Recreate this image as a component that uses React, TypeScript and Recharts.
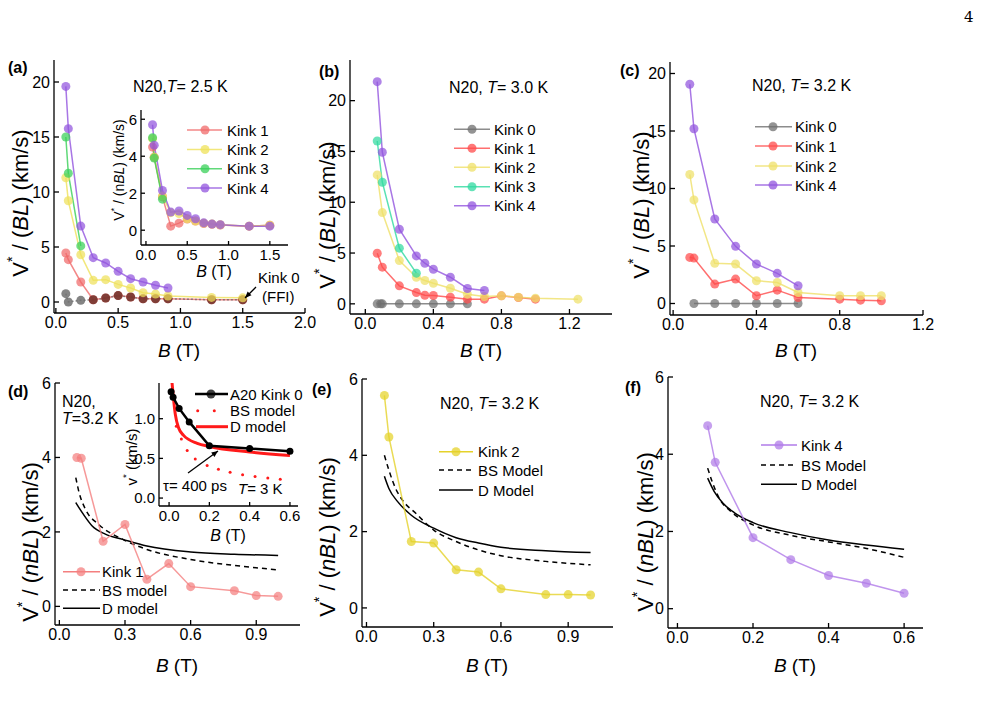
import React from "react";
import { LineChart, Line, XAxis, YAxis } from "recharts";

const FONT = "'Liberation Sans', Arial, Helvetica, sans-serif";

const GREY = "#6f6f6f";
const BROWN = "#6b2f27";
const RED_A = "#f06a6a";
const YEL_A = "#efe15a";
const GRN_A = "#38d058";
const PUR = "#9254de";
const RED = "#ff4b4b";
const YEL = "#efe068";
const TEAL = "#30d9a0";
const RED_D = "#f47f7f";
const YEL_E = "#e5d22a";
const PUR_F = "#b07be8";
const MODEL_RED = "#ff1a1a";

// ---- (a) T = 2.5 K, V*/(BL)
const bA = [0.08, 0.1, 0.2, 0.3, 0.4, 0.5, 0.6, 0.7, 0.8, 0.9, 1.25, 1.5];
const aK0 = [0.76, 0.0, 0.15, 0.2, 0.36, 0.58, 0.45, 0.3, 0.3, 0.3, 0.2, 0.2];
const aK1 = [4.45, 3.85, 1.82, 0.2, 0.36, 0.58, 0.45, 0.3, 0.3, 0.3, 0.2, 0.2];
const aK2 = [11.3, 9.2, 4.3, 1.97, 2.03, 1.6, 1.27, 0.85, 0.72, 0.55, 0.42, 0.38];
const bA3 = [0.08, 0.1, 0.2];
const aK3 = [15.0, 11.7, 5.1];
const bA4 = [0.08, 0.1, 0.2, 0.3, 0.4, 0.5, 0.6, 0.7, 0.8, 0.9];
const aK4 = [19.6, 15.76, 6.9, 4.03, 3.55, 2.79, 2.12, 1.82, 1.52, 1.27];

// ---- (a) inset, V*/(nBL)
const bIn = [0.08, 0.1, 0.2, 0.3, 0.4, 0.5, 0.6, 0.7, 0.8, 0.9, 1.25, 1.5];
const inK1 = [4.5, 3.95, 1.8, 0.22, 0.38, 0.6, 0.5, 0.36, 0.32, 0.28, 0.22, 0.27];
const inK2 = [4.95, 3.95, 1.85, 0.95, 0.9, 0.62, 0.5, 0.38, 0.33, 0.29, 0.22, 0.27];
const bIn3 = [0.08, 0.1, 0.2];
const inK3 = [5.0, 3.9, 1.68];
const inK4 = [5.7, 4.6, 2.15, 0.98, 1.04, 0.8, 0.62, 0.4, 0.33, 0.3, 0.22, 0.22];

// ---- (b) T = 3.0 K
const bB0 = [0.07, 0.09, 0.1, 0.2, 0.3, 0.4, 0.5, 0.6];
const bK0 = [0, 0, 0, 0, 0, 0, 0, 0];
const bB1 = [0.07, 0.1, 0.2, 0.3, 0.35, 0.4, 0.5, 0.6, 0.7, 0.8, 0.9, 1.0];
const bK1 = [4.98, 3.61, 1.77, 1.11, 0.85, 0.82, 0.66, 0.46, 0.46, 0.79, 0.62, 0.46];
const bB2 = [0.07, 0.1, 0.2, 0.3, 0.35, 0.4, 0.5, 0.6, 0.7, 0.8, 0.9, 1.0, 1.25];
const bK2 = [12.69, 8.98, 4.26, 2.62, 2.3, 2.03, 1.54, 0.95, 0.72, 0.79, 0.65, 0.56, 0.46];
const bB3 = [0.07, 0.1, 0.2, 0.3];
const bK3 = [16.03, 11.97, 5.48, 3.02];
const bB4 = [0.07, 0.1, 0.2, 0.3, 0.35, 0.4, 0.5, 0.6, 0.7];
const bK4 = [21.87, 14.92, 7.34, 4.72, 4.0, 3.41, 2.62, 1.51, 1.31];

// ---- (c) T = 3.2 K
const cB0 = [0.1, 0.2, 0.3, 0.4, 0.5, 0.6];
const cK0 = [0, 0, 0, 0, 0, 0];
const cB = [0.08, 0.1, 0.2, 0.3, 0.4, 0.5, 0.6, 0.8, 0.9, 1.0];
const cK1 = [4.01, 3.95, 1.69, 2.12, 0.67, 1.16, 0.52, 0.38, 0.29, 0.23];
const cK2 = [11.22, 9.01, 3.49, 3.43, 1.98, 1.83, 0.96, 0.67, 0.67, 0.67];
const cB4 = [0.08, 0.1, 0.2, 0.3, 0.4, 0.5, 0.6];
const cK4 = [19.07, 15.2, 7.35, 4.97, 3.43, 2.62, 1.54];

// ---- (d) kink 1 with models
const dB = [0.08, 0.1, 0.2, 0.3, 0.4, 0.5, 0.6, 0.8, 0.9, 1.0];
const dK1 = [4.0, 3.98, 1.75, 2.2, 0.73, 1.15, 0.53, 0.42, 0.29, 0.27];
const dBsX = [0.075, 0.09, 0.12, 0.18, 0.29, 0.4, 0.6, 0.8, 1.0];
const dBsY = [3.46, 3.06, 2.6, 2.2, 1.8, 1.53, 1.26, 1.1, 0.98];
const dDX = [0.075, 0.11, 0.15, 0.21, 0.29, 0.4, 0.6, 0.8, 1.0];
const dDY = [2.79, 2.47, 2.16, 1.94, 1.8, 1.62, 1.46, 1.4, 1.37];

// ---- (d) inset, A20 kink 0
const diX = [0.01, 0.02, 0.05, 0.1, 0.2, 0.4, 0.6];
const diY = [1.34, 1.27, 1.13, 0.96, 0.66, 0.625, 0.59];
const diBsX = [0.036, 0.061, 0.09, 0.13, 0.189, 0.245, 0.303, 0.365, 0.427, 0.49, 0.552];
const diBsY = [0.906, 0.745, 0.598, 0.492, 0.41, 0.362, 0.324, 0.294, 0.272, 0.253, 0.238];
const diDX = [0.013, 0.031, 0.047, 0.072, 0.14, 0.2, 0.4, 0.6];
const diDY = [1.5, 1.055, 0.885, 0.79, 0.69, 0.65, 0.58, 0.535];

// ---- (e) kink 2 with models
const eB = [0.08, 0.1, 0.2, 0.3, 0.4, 0.5, 0.6, 0.8, 0.9, 1.0];
const eK2 = [5.57, 4.48, 1.74, 1.7, 1.0, 0.94, 0.5, 0.35, 0.35, 0.34];
const eBsX = [0.08, 0.1, 0.13, 0.16, 0.22, 0.3, 0.4, 0.5, 0.6, 0.8, 1.0];
const eBsY = [4.0, 3.61, 3.13, 2.83, 2.48, 2.04, 1.74, 1.52, 1.37, 1.22, 1.13];
const eDX = [0.08, 0.1, 0.14, 0.2, 0.3, 0.4, 0.5, 0.6, 0.8, 1.0];
const eDY = [3.45, 3.13, 2.78, 2.43, 2.09, 1.84, 1.7, 1.59, 1.5, 1.45];

// ---- (f) kink 4 with models
const fB = [0.08, 0.1, 0.2, 0.3, 0.4, 0.5, 0.6];
const fK4 = [4.74, 3.79, 1.84, 1.27, 0.86, 0.66, 0.4];
const fBsX = [0.08, 0.093, 0.11, 0.14, 0.2, 0.3, 0.4, 0.5, 0.6];
const fBsY = [3.64, 3.26, 2.87, 2.53, 2.17, 1.9, 1.73, 1.56, 1.33];
const fDX = [0.08, 0.097, 0.12, 0.15, 0.2, 0.3, 0.4, 0.5, 0.6];
const fDY = [3.38, 3.04, 2.74, 2.49, 2.23, 1.97, 1.78, 1.65, 1.54];

const zip = (xs: number[], ys: number[]) => xs.map((x, i) => ({ x, y: ys[i] }));
const f1 = (v: number) => v.toFixed(1);
const f0 = (v: number) => String(v);

function kink(id: string, xs: number[], ys: number[], color: string, dotProp?: any, dash?: string) {
  return (
    <Line
      key={id}
      xAxisId="b"
      yAxisId="l"
      data={zip(xs, ys)}
      dataKey="y"
      type="linear"
      stroke={color}
      strokeWidth={1.5}
      strokeOpacity={0.8}
      strokeDasharray={dash}
      dot={dotProp || { r: 4.5, fill: color, fillOpacity: 0.72, stroke: "none" }}
      activeDot={false}
      isAnimationActive={false}
    />
  );
}

function model(id: string, xs: number[], ys: number[], color: string, width: number, dash?: string) {
  return (
    <Line
      key={id}
      xAxisId="b"
      yAxisId="l"
      data={zip(xs, ys)}
      dataKey="y"
      type="monotone"
      stroke={color}
      strokeWidth={width}
      strokeDasharray={dash}
      dot={false}
      activeDot={false}
      isAnimationActive={false}
    />
  );
}

function Panel({
  l, t, r, b, xDomain, yDomain, xTicks, yTicks,
  xFmt = f1, yFmt = f0, fontSize = 16, tick = 5, children,
}: {
  l: number; t: number; r: number; b: number;
  xDomain: [number, number]; yDomain: [number, number];
  xTicks: number[]; yTicks: number[];
  xFmt?: (v: number) => string; yFmt?: (v: number) => string;
  fontSize?: number; tick?: number; children: React.ReactNode;
}) {
  const yW = 40;
  const xH = 30;
  const padT = 12;
  const padR = 16;
  const axis = { stroke: "#000", strokeWidth: 1.3 };
  const tickStyle = { fill: "#000", fontSize, fontFamily: FONT };
  const blank = () => "";
  return (
    <div style={{ position: "absolute", left: l - yW, top: t - padT }}>
      <LineChart
        width={r - l + yW + padR}
        height={b - t + padT + xH}
        margin={{ top: padT, right: padR, bottom: 0, left: 0 }}
      >
        <XAxis xAxisId="b" type="number" dataKey="x" domain={xDomain} ticks={xTicks} allowDataOverflow
          interval={0} height={xH} axisLine={axis} tickLine={axis} tickSize={-tick} tickMargin={tick + 4}
          tick={tickStyle} tickFormatter={xFmt} />
        <XAxis xAxisId="t" orientation="top" type="number" dataKey="x" domain={xDomain} ticks={xTicks}
          allowDataOverflow interval={0} height={0} axisLine={axis} tickLine={axis} tickSize={-tick}
          tickFormatter={blank} />
        <YAxis yAxisId="l" type="number" domain={yDomain} ticks={yTicks} allowDataOverflow interval={0}
          width={yW} axisLine={axis} tickLine={axis} tickSize={-tick} tickMargin={tick + 4}
          tick={tickStyle} tickFormatter={yFmt} />
        <YAxis yAxisId="r" orientation="right" type="number" domain={yDomain} ticks={yTicks}
          allowDataOverflow interval={0} width={0} axisLine={axis} tickLine={axis} tickSize={-tick}
          tickFormatter={blank} />
        {children}
      </LineChart>
    </div>
  );
}

// kink 0 in (a): dots that sit on kink 1 look dark brown
const kink0Dot = (p: any) => (
  <circle
    key={`k0-${p.index}`}
    cx={p.cx}
    cy={p.cy}
    r={4.5}
    fill={aK0[p.index] === aK1[p.index] ? BROWN : GREY}
    fillOpacity={0.85}
  />
);

function Row({ x1, x2, dx, tx, y, color, label, dash, dot = true, w = 1.5, fs = 15, op = 0.8 }: any) {
  return (
    <g>
      <line x1={x1} x2={x2} y1={y} y2={y} stroke={color} strokeWidth={w} strokeDasharray={dash} strokeOpacity={op} />
      {dot && <circle cx={dx} cy={y} r={4.5} fill={color} fillOpacity={0.75} />}
      <text x={tx} y={y + 5.5} fontSize={fs}>{label}</text>
    </g>
  );
}

function YTitle({ cx, cy, fs = 22, n = false, nItalic = true, small = false }: any) {
  return (
    <text x={cx} y={cy} transform={`rotate(-90 ${cx} ${cy})`} textAnchor="middle" dominantBaseline="central" fontSize={fs}>
      {small ? "v" : "V"}
      <tspan dy={-fs * 0.38} fontSize={fs * 0.65}>*</tspan>
      {small ? (
        <tspan dy={fs * 0.38}> (km/s)</tspan>
      ) : (
        <>
          <tspan dy={fs * 0.38}> / (</tspan>
          {n && <tspan fontStyle={nItalic ? "italic" : "normal"}>n</tspan>}
          <tspan fontStyle="italic">BL</tspan>
          <tspan>) (km/s)</tspan>
        </>
      )}
    </text>
  );
}

function XTitle({ cx, y, fs = 19 }: any) {
  return (
    <text x={cx} y={y} textAnchor="middle" fontSize={fs}>
      <tspan fontStyle="italic">B</tspan> (T)
    </text>
  );
}

function Cond({ x, y, t, comma = ", " }: any) {
  return (
    <text x={x} y={y} fontSize={16}>
      N20{comma}<tspan fontStyle="italic">T</tspan>= {t} K
    </text>
  );
}

function Arrow({ x1, y1, x2, y2 }: any) {
  const a = Math.atan2(y2 - y1, x2 - x1);
  const L = 7;
  const p1 = [x2 - L * Math.cos(a - 0.4), y2 - L * Math.sin(a - 0.4)];
  const p2 = [x2 - L * Math.cos(a + 0.4), y2 - L * Math.sin(a + 0.4)];
  return (
    <g>
      <line x1={x1} y1={y1} x2={x2} y2={y2} stroke="#000" strokeWidth={1.3} />
      <polygon points={`${x2},${y2} ${p1[0]},${p1[1]} ${p2[0]},${p2[1]}`} fill="#000" />
    </g>
  );
}

export default function App() {
  return (
    <div style={{ position: "absolute", left: 0, top: 0, width: 982, height: 711, background: "#fff", fontFamily: FONT }}>
      {/* (a) */}
      <Panel l={54} r={305} t={60} b={313} xDomain={[-0.015, 2.0]} yDomain={[-1, 22]}
        xTicks={[0, 0.5, 1, 1.5, 2]} yTicks={[0, 5, 10, 15, 20]}>
        {kink("a1", bA, aK1, RED_A)}
        {kink("a0", bA, aK0, GREY, kink0Dot, "2 2")}
        {kink("a2", bA, aK2, YEL_A)}
        {kink("a3", bA3, aK3, GRN_A)}
        {kink("a4", bA4, aK4, PUR)}
      </Panel>
      <Panel l={141} r={288} t={110} b={245} xDomain={[-0.06, 1.72]} yDomain={[-0.8, 6.5]}
        xTicks={[0, 0.5, 1, 1.5]} yTicks={[0, 2, 4, 6]} fontSize={15} tick={4}>
        {kink("i1", bIn, inK1, RED_A)}
        {kink("i2", bIn, inK2, YEL_A)}
        {kink("i3", bIn3, inK3, GRN_A)}
        {kink("i4", bIn, inK4, PUR)}
      </Panel>

      {/* (b) */}
      <Panel l={350} r={612} t={60} b={314} xDomain={[-0.09, 1.45]} yDomain={[-1, 24]}
        xTicks={[0, 0.4, 0.8, 1.2]} yTicks={[0, 5, 10, 15, 20]}>
        {kink("b0", bB0, bK0, GREY)}
        {kink("b1", bB1, bK1, RED)}
        {kink("b2", bB2, bK2, YEL)}
        {kink("b3", bB3, bK3, TEAL)}
        {kink("b4", bB4, bK4, PUR)}
      </Panel>

      {/* (c) */}
      <Panel l={670} r={923} t={62} b={315} xDomain={[-0.015, 1.2]} yDomain={[-1, 21]}
        xTicks={[0, 0.4, 0.8, 1.2]} yTicks={[0, 5, 10, 15, 20]}>
        {kink("c0", cB0, cK0, GREY)}
        {kink("c1", cB, cK1, RED)}
        {kink("c2", cB, cK2, YEL)}
        {kink("c4", cB4, cK4, PUR)}
      </Panel>

      {/* (d) */}
      <Panel l={55} r={300} t={383} b={625} xDomain={[-0.02, 1.1]} yDomain={[-0.5, 6]}
        xTicks={[0, 0.3, 0.6, 0.9]} yTicks={[0, 2, 4, 6]}>
        {model("dbs", dBsX, dBsY, "#000", 1.5, "5 4")}
        {model("dd", dDX, dDY, "#000", 1.5)}
        {kink("d1", dB, dK1, RED_D)}
      </Panel>
      <Panel l={159} r={298} t={383} b={506} xDomain={[-0.05, 0.64]} yDomain={[-0.1, 1.45]}
        xTicks={[0, 0.2, 0.4, 0.6]} yTicks={[0, 0.5, 1.0]} yFmt={f1} fontSize={15} tick={4}>
        <Line xAxisId="b" yAxisId="l" data={zip(diBsX, diBsY)} dataKey="y" stroke="none"
          dot={{ r: 1.5, fill: MODEL_RED, stroke: "none" }} activeDot={false} isAnimationActive={false} />
        {model("did", diDX, diDY, MODEL_RED, 3)}
        <Line xAxisId="b" yAxisId="l" data={zip(diX, diY)} dataKey="y" type="linear" stroke="#000" strokeWidth={2.5}
          dot={{ r: 3.5, fill: "#000", stroke: "none" }} activeDot={false} isAnimationActive={false} />
      </Panel>

      {/* (e) */}
      <Panel l={362} r={613} t={379} b={627} xDomain={[-0.02, 1.1]} yDomain={[-0.5, 6]}
        xTicks={[0, 0.3, 0.6, 0.9]} yTicks={[0, 2, 4, 6]}>
        {model("ebs", eBsX, eBsY, "#000", 1.5, "5 4")}
        {model("ed", eDX, eDY, "#000", 1.5)}
        {kink("e2", eB, eK2, YEL_E)}
      </Panel>

      {/* (f) */}
      <Panel l={668} r={923} t={377} b={628} xDomain={[-0.025, 0.65]} yDomain={[-0.5, 6]}
        xTicks={[0, 0.2, 0.4, 0.6]} yTicks={[0, 2, 4, 6]}>
        {model("fbs", fBsX, fBsY, "#000", 1.5, "5 4")}
        {model("fd", fDX, fDY, "#000", 1.5)}
        {kink("f4", fB, fK4, PUR_F)}
      </Panel>

      <svg width={982} height={711} style={{ position: "absolute", left: 0, top: 0, pointerEvents: "none" }}
        fontFamily={FONT} fill="#000">
        <text x={964} y={22} fontSize={15} fontFamily="'DejaVu Serif', 'Liberation Serif', serif">4</text>

        <g fontWeight="bold" fontSize={16}>
          <text x={8} y={73}>(a)</text>
          <text x={319} y={77}>(b)</text>
          <text x={620} y={76}>(c)</text>
          <text x={8} y={397}>(d)</text>
          <text x={312} y={395}>(e)</text>
          <text x={625} y={393}>(f)</text>
        </g>

        <Cond x={133} y={91.5} t="2.5" comma="," />
        <Cond x={449} y={93} t="3.0" />
        <Cond x={752} y={91} t="3.2" />
        <Cond x={440} y={409} t="3.2" />
        <Cond x={760} y={407} t="3.2" />
        <text x={62} y={407} fontSize={16}>N20,</text>
        <text x={62} y={424} fontSize={16}><tspan fontStyle="italic">T</tspan>=3.2 K</text>

        <YTitle cx={20} cy={203} />
        <YTitle cx={327} cy={215} />
        <YTitle cx={641} cy={205} />
        <YTitle cx={30} cy={542} n />
        <YTitle cx={327} cy={537} n />
        <YTitle cx={645} cy={532} n />
        <YTitle cx={119} cy={170} fs={14} n nItalic={false} />
        <YTitle cx={131} cy={457} fs={15} small />

        <XTitle cx={179} y={357} />
        <XTitle cx={481} y={357} />
        <XTitle cx={796} y={357} />
        <XTitle cx={177} y={672} />
        <XTitle cx={487} y={672} />
        <XTitle cx={795} y={672} />
        <XTitle cx={214} y={277} fs={16} />
        <XTitle cx={228} y={541} fs={16} />

        {/* legends */}
        <Row x1={187} x2={222} dx={205} tx={227} y={130} color={RED_A} label="Kink 1" />
        <Row x1={187} x2={222} dx={205} tx={227} y={149.5} color={YEL_A} label="Kink 2" />
        <Row x1={187} x2={222} dx={205} tx={227} y={168.7} color={GRN_A} label="Kink 3" />
        <Row x1={187} x2={222} dx={205} tx={227} y={188} color={PUR} label="Kink 4" />

        <Row x1={454} x2={490} dx={472} tx={494} y={129.3} color={GREY} label="Kink 0" />
        <Row x1={454} x2={490} dx={472} tx={494} y={148.3} color={RED} label="Kink 1" />
        <Row x1={454} x2={490} dx={472} tx={494} y={167.3} color={YEL} label="Kink 2" />
        <Row x1={454} x2={490} dx={472} tx={494} y={186.7} color={TEAL} label="Kink 3" />
        <Row x1={454} x2={490} dx={472} tx={494} y={205.7} color={PUR} label="Kink 4" />

        <Row x1={755} x2={792} dx={773} tx={795} y={126.7} color={GREY} label="Kink 0" />
        <Row x1={755} x2={792} dx={773} tx={795} y={146} color={RED} label="Kink 1" />
        <Row x1={755} x2={792} dx={773} tx={795} y={166} color={YEL} label="Kink 2" />
        <Row x1={755} x2={792} dx={773} tx={795} y={185} color={PUR} label="Kink 4" />

        <Row x1={63} x2={100} dx={81} tx={102} y={571.7} color={RED_D} label="Kink 1" op={1} />
        <Row x1={63} x2={100} tx={102} y={590} color="#000" label="BS model" dash="5 4" dot={false} op={1} />
        <Row x1={63} x2={100} tx={102} y={608.3} color="#000" label="D model" dot={false} op={1} />

        <Row x1={195} x2={228} dx={211} tx={230} y={394} color="#000" label="A20 Kink 0" w={2.5} op={1} />
        <circle cx={197.7} cy={410.7} r={1.5} fill={MODEL_RED} />
        <circle cx={214.3} cy={410.7} r={1.5} fill={MODEL_RED} />
        <text x={230} y={416.2} fontSize={15}>BS model</text>
        <Row x1={196} x2={228} tx={230} y={426.7} color={MODEL_RED} label="D model" dot={false} w={3} op={1} />

        <Row x1={439} x2={473} dx={456} tx={478} y={451.7} color={YEL_E} label="Kink 2" op={1} />
        <Row x1={439} x2={473} tx={478} y={470} color="#000" label="BS Model" dash="5 4" dot={false} op={1} />
        <Row x1={439} x2={473} tx={478} y={490} color="#000" label="D Model" dot={false} op={1} />

        <Row x1={761} x2={797} dx={779} tx={801} y={445} color={PUR_F} label="Kink 4" op={1} />
        <Row x1={761} x2={797} tx={801} y={465} color="#000" label="BS Model" dash="5 4" dot={false} op={1} />
        <Row x1={761} x2={797} tx={801} y={484.3} color="#000" label="D Model" dot={false} op={1} />

        {/* annotations */}
        <text x={258} y={283} fontSize={15}>Kink 0</text>
        <text x={262} y={302} fontSize={15}>(FFI)</text>
        <Arrow x1={256} y1={287} x2={245} y2={298} />
        <text x={163} y={491} fontSize={15}>τ= 400 ps</text>
        <Arrow x1={188} y1={473} x2={218} y2={451} />
        <text x={238} y={494} fontSize={15}><tspan fontStyle="italic">T</tspan>= 3 K</text>
      </svg>
    </div>
  );
}
